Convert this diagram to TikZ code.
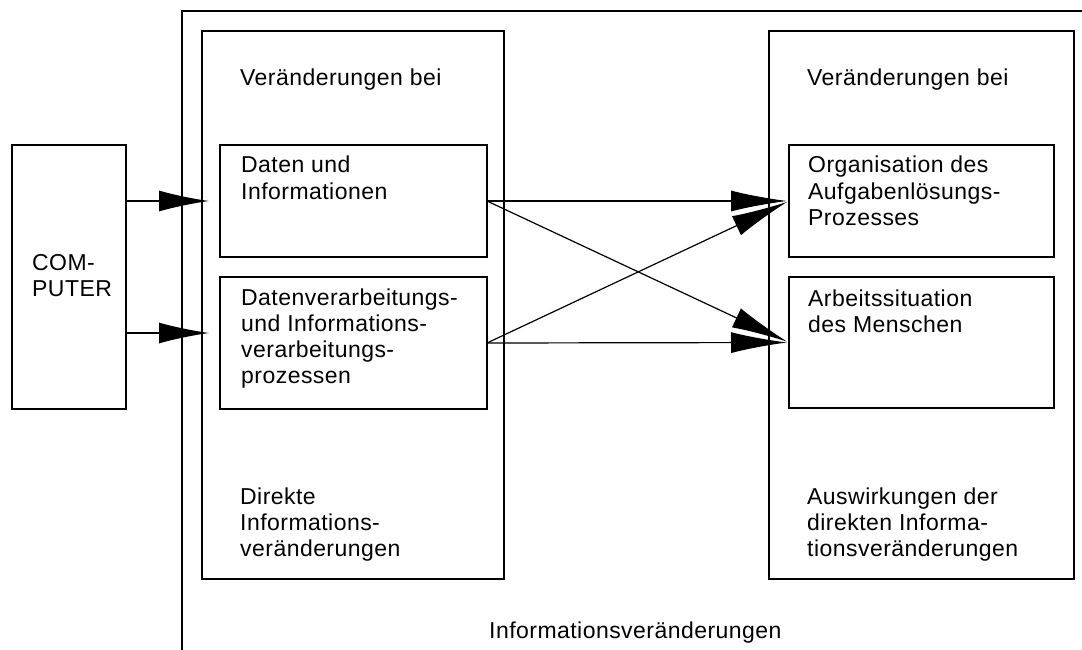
\documentclass[tikz,border=0pt]{standalone}
\usepackage{fontspec}
\newfontfamily\diagfont[LetterSpace=2]{Liberation Sans}
\usetikzlibrary{arrows.meta}
\tikzset{
  box/.style={draw, line width=1.2pt, inner sep=0pt, outer sep=0pt},
  txt/.style={anchor=base west, inner sep=0pt, align=left, font=\diagfont\fontsize{23}{26}\selectfont},
  arr/.style={line width=1.2pt, -{Latex[length=50pt,width=21pt]}},
  rarr/.style={line width=1.2pt, -{Latex[length=56pt,width=21pt]}, shorten >=2pt},
}
\begin{document}
\begin{tikzpicture}[x=1pt,y=-1pt]
\useasboundingbox (0,0) rectangle (1082,650);
% outer frame (open to right and bottom)
\coordinate (otr) at (1082,11);
\coordinate (otl) at (182,11);
\coordinate (obl) at (182,650);
\draw[line width=1.2pt] (otr) -- (otl) -- (obl);
% big boxes
\node[box, minimum width=302pt, minimum height=548pt] (L) at (353,305) {};
\node[box, minimum width=305pt, minimum height=548pt] (R) at (921.5,305) {};
% computer
\node[box, minimum width=114pt, minimum height=264pt] (comp) at (69,277) {};
% inner left boxes
\node[box, minimum width=267pt, minimum height=112pt] (d1) at (353.5,201) {};
\node[box, minimum width=267pt, minimum height=132pt] (d2) at (353.5,343) {};
% inner right boxes
\node[box, minimum width=265pt, minimum height=112pt] (o1) at (921.5,201) {};
\node[box, minimum width=265pt, minimum height=131pt] (o2) at (921.5,342.5) {};
\coordinate (d2in) at ([yshift=10pt]d2.west);
% texts (base anchor = baseline of last line)
\node[txt] (tL) at (240,86) {Veränderungen bei};
\node[txt] (tR) at (807,86) {Veränderungen bei};
\node[txt] (tcomp) at (32,296) {COM-\\PUTER};
\node[txt] (td1) at (241,199) {Daten und\\Informationen};
\node[txt] (td2) at (241,383) {Datenverarbeitungs-\\und Informations-\\verarbeitungs-\\prozessen};
\node[txt] (to1) at (808,225) {Organisation des\\Aufgabenlösungs-\\Prozesses};
\node[txt] (to2) at (808,332) {Arbeitssituation\\des Menschen};
\node[txt] (tLb) at (240,556) {Direkte\\Informations-\\veränderungen};
\node[txt] (tRb) at (807,556) {Auswirkungen der\\direkten Informa-\\tionsveränderungen};
\node[txt] (tall) at (489,638) {Informationsveränderungen};
% arrows from computer
\draw[arr, shorten >=11pt] (comp.east |- d1.west) -- (d1.west);
\draw[arr, shorten >=11pt] (comp.east |- d2in) -- (d2in);
% arrows to right
\draw[rarr] (d1.east) -- (o1.west);
\draw[rarr] (d2.east) -- (o1.west);
\draw[rarr] (d1.east) -- (o2.west);
\draw[rarr] (d2.east) -- (o2.west);
\end{tikzpicture}
\end{document}
